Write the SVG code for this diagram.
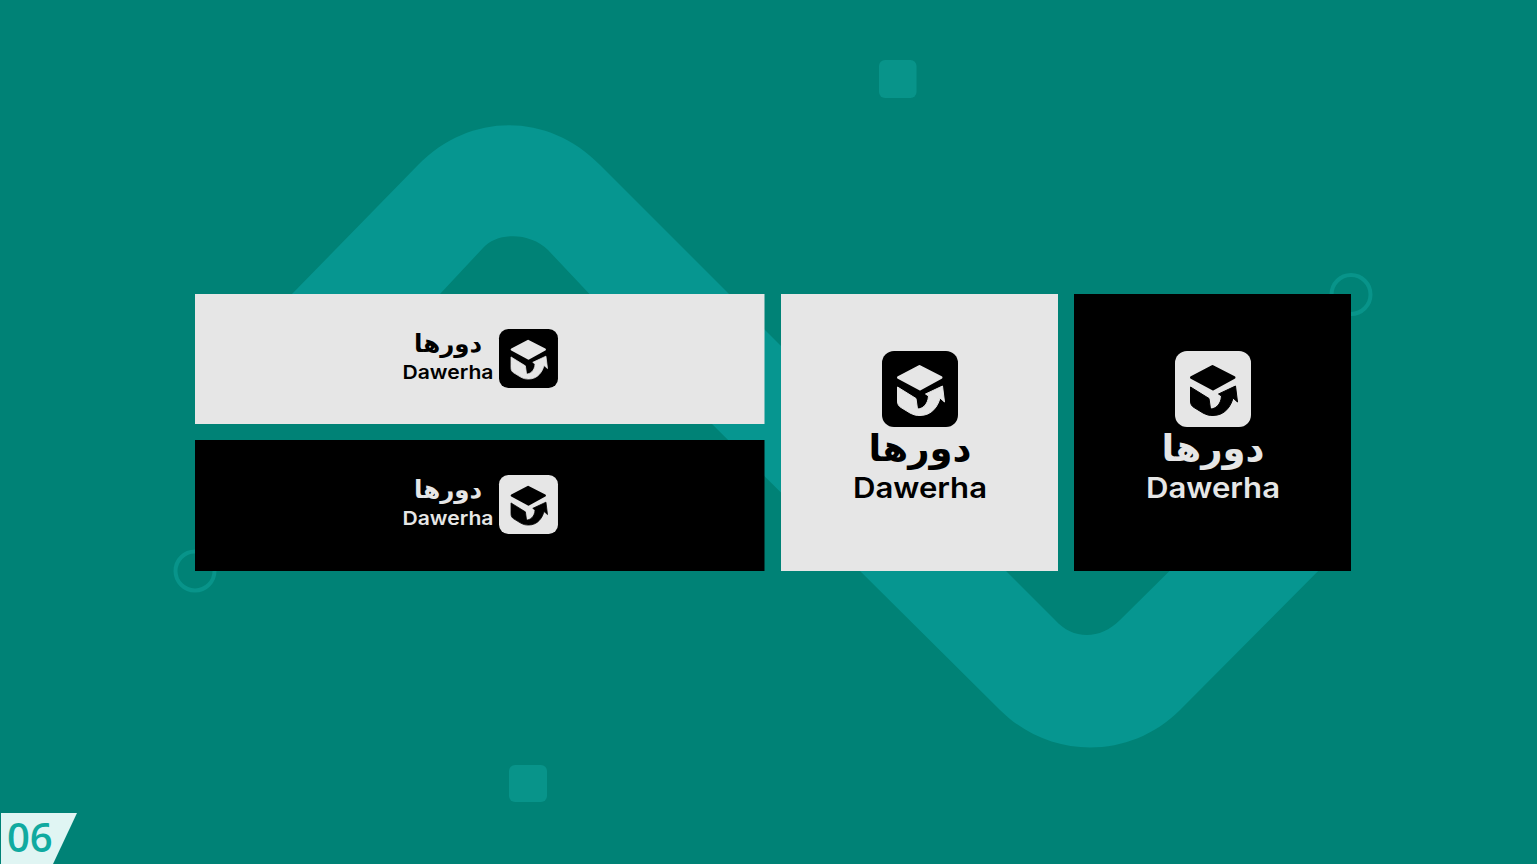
<svg xmlns="http://www.w3.org/2000/svg" width="1537" height="864" viewBox="0 0 1537 864">
<style>
.ar{font-family:"DejaVu Sans","Noto Sans",sans-serif;font-weight:700}
.en{font-family:"Inter","Open Sans",sans-serif;font-weight:600}
.lt{fill:#e6e6e6}.dk{fill:#000}
.deco{fill:#08948a}.ring{fill:none;stroke:#08948a;stroke-width:4}
</style>
<defs>
<g id="glyph">
<path stroke-linejoin="round" stroke-width="3" stroke="currentColor" fill="currentColor" d="M37.5,15.500 L16.500,26.500 L38,38 L59,26.500 Z"/>
<path fill="currentColor" stroke="currentColor" stroke-width="1" stroke-linejoin="round" d="M15.500,36 L34,47.500 L35.500,58 C40,58 46,54 46.500,45 L43.500,43 L60.500,35 L62.500,51 L58,47 C56,55 50,64.500 38,64.500 C34,64.500 32,64 28,62 L19,56.500 C16.500,55 15.500,53 15.500,50 Z"/>
</g>
</defs>
<rect width="1537" height="864" fill="#008276"/>
<path id="band" fill="#069690" d="M292,294 L418,165 C470,112 548,112 600,165 L1055,620 C1073,640 1100,640 1120,620 L1220,521 L1300,521 L1340,549 L1180,710 C1130,760 1050,760 1000,710 L712,424 L548,250 C530,232 497,232 483,248 L440,294 L420,316 L270,316 Z"/>
<rect id="square-top" class="deco" x="879" y="60" width="37.500" height="38" rx="6"/>
<rect id="square-bottom" class="deco" x="509" y="765" width="38" height="37" rx="6"/>
<circle id="ring-right" class="ring" cx="1351" cy="294.500" r="19.500"/>
<circle id="ring-left" class="ring" cx="195" cy="571" r="19.500"/>

<g id="card-horizontal-light">
<rect class="lt" x="195" y="294" width="569.500" height="130"/>
<text class="ar" x="448" y="352" font-size="24.500" text-anchor="middle" fill="#000">دورها</text>
<text class="en" x="448" y="379" font-size="19" text-anchor="middle" textLength="91" lengthAdjust="spacingAndGlyphs" fill="#000">Dawerha</text>
<g transform="translate(499,329) scale(.776)" color="#e6e6e6"><rect class="dk" width="76" height="76" rx="12"/><use href="#glyph"/></g>
</g>
<g id="card-horizontal-dark">
<rect class="dk" x="195" y="440" width="569.500" height="131"/>
<text class="ar" x="448" y="498" font-size="24.500" text-anchor="middle" fill="#e6e6e6">دورها</text>
<text class="en" x="448" y="525" font-size="19" text-anchor="middle" textLength="91" lengthAdjust="spacingAndGlyphs" fill="#e6e6e6">Dawerha</text>
<g transform="translate(499,475) scale(.776)" color="#000"><rect class="lt" width="76" height="76" rx="12"/><use href="#glyph"/></g>
</g>
<g id="card-square-light">
<rect class="lt" x="781" y="294" width="277" height="277"/>
<g transform="translate(882,351)" color="#e6e6e6"><rect class="dk" width="76" height="76" rx="12"/><use href="#glyph"/></g>
<text class="ar" x="920" y="461" font-size="37" text-anchor="middle" fill="#000">دورها</text>
<text class="en" x="920" y="498" font-size="28" text-anchor="middle" textLength="134" lengthAdjust="spacingAndGlyphs" fill="#000">Dawerha</text>
</g>
<g id="card-square-dark">
<rect class="dk" x="1074" y="294" width="277" height="277"/>
<g transform="translate(1175,351)" color="#000"><rect class="lt" width="76" height="76" rx="12"/><use href="#glyph"/></g>
<text class="ar" x="1213" y="461" font-size="37" text-anchor="middle" fill="#e6e6e6">دورها</text>
<text class="en" x="1213" y="498" font-size="28" text-anchor="middle" textLength="134" lengthAdjust="spacingAndGlyphs" fill="#e6e6e6">Dawerha</text>
</g>
<g id="page-badge">
<polygon points="1,813 77,813 53,864 1,864" fill="#e0f5f3"/>
<text x="7" y="852" font-family="Open Sans, sans-serif" font-size="40" font-weight="600" fill="#10aaa0">06</text>
</g>
<g id="connectors"/>
</svg>
